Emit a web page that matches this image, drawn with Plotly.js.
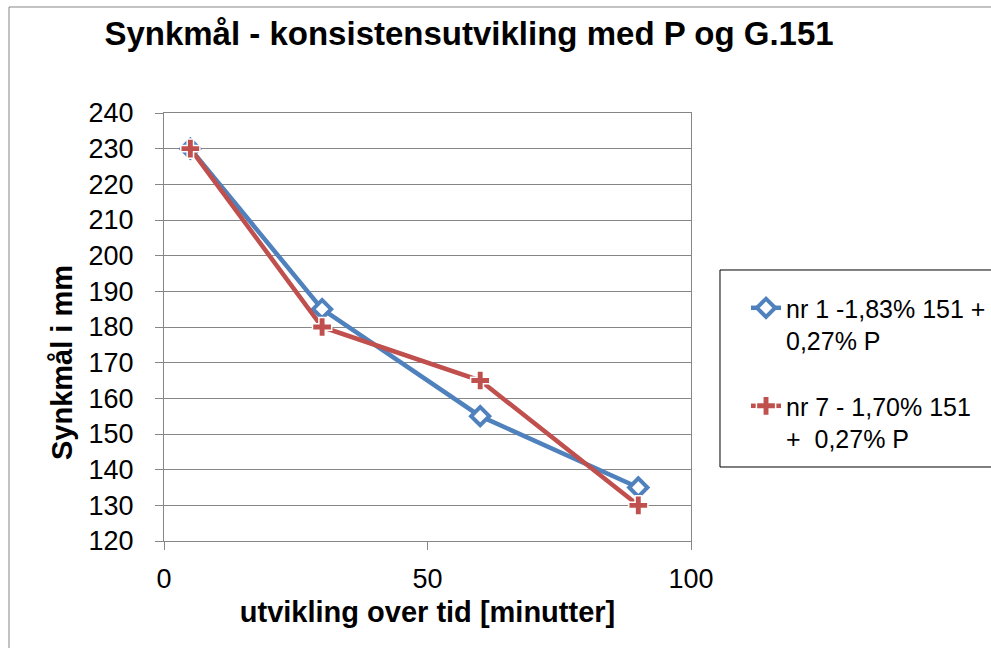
<!DOCTYPE html>
<html>
<head>
<meta charset="utf-8">
<script src="https://cdn.plot.ly/plotly-3.0.1.min.js"></script>
<style>html,body{margin:0;padding:0;background:#fff;}#chart{width:991px;height:648px;}</style>
</head>
<body>
<div id="chart"></div>
<script>
const minutes = [5, 30, 60, 90];
const seriesNames = ["nr 1 -1,83% 151 +<br>0,27% P", "nr 7 - 1,70% 151<br>+  0,27% P"];
const nr1Values = [230, 185, 155, 135];
const nr7Values = [230, 180, 165, 130];
const chartTitle = "Synkmål - konsistensutvikling med P og G.151";
const xTitle = "utvikling over tid [minutter]";
const yTitle = "Synkmål i mm";

const font = "Liberation Sans, Arial, sans-serif";
const blue = "#4F81BD", red = "#C0504D";

const traces = [
  {x: minutes, y: nr1Values, name: seriesNames[0], type: "scatter", mode: "lines+markers",
   legendgroup: "a",
   line: {color: blue, width: 4.5},
   marker: {symbol: "diamond", size: 14, color: "#ffffff", line: {color: blue, width: 4}}},
  {x: minutes, y: nr7Values, name: seriesNames[1], type: "scatter", mode: "lines+markers",
   legendgroup: "b",
   line: {color: red, width: 4.5},
   marker: {symbol: "cross", size: 16, color: red, line: {color: "#ffffff", width: 1.5}}}
];

const layout = {
  width: 991, height: 648,
  margin: {l: 164, r: 300, t: 113, b: 107, autoexpand: false},
  paper_bgcolor: "#ffffff", plot_bgcolor: "#ffffff",
  font: {family: font, color: "#000000"},
  title: {text: "<b>" + chartTitle + "</b>", font: {family: font, size: 33, color: "#000"},
          x: 0.4733, xanchor: "center", xref: "container", y: 0.949, yanchor: "middle", yref: "container"},
  xaxis: {range: [0, 100], tickvals: [0, 50, 100], ticks: "outside", ticklen: 8, tickcolor: "#868686",
          showgrid: false, zeroline: false, showline: true, linecolor: "#868686", linewidth: 1, mirror: true,
          tickfont: {family: font, size: 27, color: "#000"}, ticklabelstandoff: 6,
          title: {text: "<b>" + xTitle + "</b>", font: {family: font, size: 29, color: "#000"}, standoff: 8}},
  yaxis: {range: [120, 240], dtick: 10, ticks: "outside", ticklen: 8, tickcolor: "#868686",
          showgrid: true, gridcolor: "#868686", gridwidth: 1, zeroline: false,
          showline: true, linecolor: "#868686", linewidth: 1, mirror: true,
          tickfont: {family: font, size: 27, color: "#000"}, ticklabelstandoff: 16},
  showlegend: true,
  legend: {x: 1.1044, xanchor: "left", y: 0.598, yanchor: "top", bgcolor: "rgba(0,0,0,0)",
           borderwidth: 0, font: {family: font, size: 25, color: "#000"}, valign: "top",
           tracegroupgap: 30},
  annotations: [
    {text: "<b>" + yTitle + "</b>", textangle: -90, xref: "paper", yref: "paper",
     x: -0.1935, y: 0.4159, xanchor: "center", yanchor: "middle", showarrow: false,
     font: {family: font, size: 29, color: "#000"}}
  ],
  shapes: [
    {type: "rect", xref: "paper", yref: "paper", x0: -0.2941, x1: 1.7, y0: -0.35, y1: 1.2477,
     line: {color: "#868686", width: 1}, fillcolor: "rgba(0,0,0,0)", layer: "below"},
    {type: "rect", xref: "paper", yref: "paper", x0: 1.0550, x1: 1.7, y0: 0.1729, y1: 0.6332,
     line: {color: "#000000", width: 1}, fillcolor: "rgba(0,0,0,0)"}
  ]
};

Plotly.newPlot("chart", traces, layout, {displayModeBar: false, staticPlot: true});
</script>
</body>
</html>
